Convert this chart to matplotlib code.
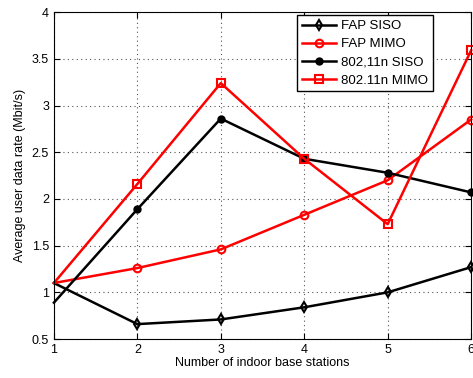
import matplotlib
matplotlib.use("Agg")
import matplotlib.pyplot as plt

plt.rcParams['font.family'] = ['Liberation Sans', 'DejaVu Sans']

n_bs = [1, 2, 3, 4, 5, 6]
fap_siso = [1.10, 0.66, 0.71, 0.84, 1.00, 1.27]
fap_mimo = [1.10, 1.26, 1.46, 1.83, 2.20, 2.85]
wifi_siso = [0.89, 1.89, 2.86, 2.43, 2.28, 2.07]
wifi_mimo = [1.10, 2.16, 3.24, 2.43, 1.73, 3.59]

series = [
    ("FAP SISO", fap_siso, "k", "d"),
    ("FAP MIMO", fap_mimo, "r", "o"),
    ("802,11n SISO", wifi_siso, "k", "."),
    ("802.11n MIMO", wifi_mimo, "r", "s"),
]

fig = plt.figure(figsize=(4.73, 3.78), dpi=100)
ax = fig.add_axes([0.114, 0.103, 0.882, 0.865])

for label, vals, col, mk in series:
    ms = 9 if mk == "." else 5.5
    ax.plot(n_bs, vals, color=col, lw=1.8, marker=mk, ms=ms,
            mfc="none" if mk != "." else col, mew=1.5,
            markevery=slice(1, None), label=label, clip_on=False)

ax.set_xlim(1, 6)
ax.set_ylim(0.5, 4)
ax.set_xticks(n_bs)
ax.set_yticks([0.5, 1, 1.5, 2, 2.5, 3, 3.5, 4])
ax.set_yticklabels(["0.5", "1", "1.5", "2", "2.5", "3", "3.5", "4"])
ax.grid(True, ls=(0, (1, 3)), color="#555", lw=0.8)
ax.tick_params(direction="in", top=True, right=True, labelsize=9, length=4)
ax.set_xlabel("Number of indoor base stations", fontsize=9, labelpad=1)
ax.set_ylabel("Average user data rate (Mbit/s)", fontsize=9, labelpad=4)

leg = ax.legend(loc="upper right", bbox_to_anchor=(0.917, 1.002), fontsize=9.5,
                fancybox=False, edgecolor="k", framealpha=1,
                handlelength=2.6, handletextpad=0.35, borderpad=0.35,
                labelspacing=0.45, borderaxespad=0.3)
leg.get_frame().set_linewidth(1.0)

fig.savefig("out.png", dpi=100)
